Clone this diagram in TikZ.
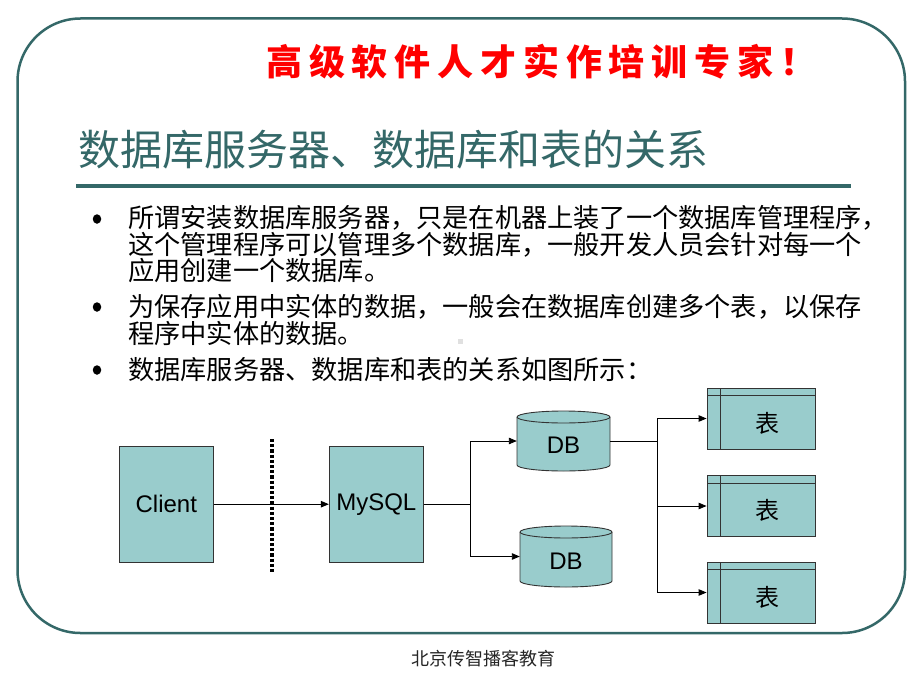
\documentclass[tikz,border=0pt]{standalone}
\usepackage{fontspec}
\setmainfont{Liberation Sans}
\newfontfamily\cjk{Noto Sans CJK SC}
\newfontfamily\cjkred[LetterSpace=19]{Noto Sans CJK SC}
\usetikzlibrary{arrows.meta}
\definecolor{tealzero}{HTML}{346868}
\definecolor{cyanfill}{HTML}{99CCCC}
\definecolor{edgec}{HTML}{333333}
\newcommand\mycyl[5]{%
  \filldraw[draw=edgec, fill=cyanfill, line width=0.9pt]
    (#1,#3+6) -- (#1,#4-6)
    arc[start angle=180,end angle=360,x radius=#5pt,y radius=6pt]
    -- (#2,#3+6)
    arc[start angle=0,end angle=180,x radius=#5pt,y radius=6pt] -- cycle;
  \draw[draw=edgec, line width=0.9pt] (#1,#3+6)
    arc[start angle=180,end angle=360,x radius=#5pt,y radius=6pt];}
\tikzset{
  frame/.style={draw=tealzero, line width=2.5pt, rounded corners=63pt},
  box/.style={draw=edgec, fill=cyanfill, line width=0.9pt, minimum width=94pt,
    minimum height=116pt, inner sep=0pt, font=\fontsize{24}{24}\selectfont},
  dbnode/.style={draw=none, inner sep=0pt, minimum width=93pt, minimum height=60pt},
  dblabel/.style={inner sep=0pt, font=\fontsize{24}{24}\selectfont},
  tablebox/.style={draw=edgec, fill=cyanfill, line width=0.9pt, minimum width=108pt,
    minimum height=61pt, inner sep=0pt,
    path picture={
      \draw[edgec, line width=0.9pt]
        ([yshift=-7.5pt]path picture bounding box.north west) --
        ([yshift=-7.5pt]path picture bounding box.north east);
      \draw[edgec, line width=0.9pt]
        ([xshift=13pt]path picture bounding box.north west) --
        ([xshift=13pt]path picture bounding box.south west);}},
  tabletext/.style={inner sep=0pt, font=\cjk\fontsize{24}{24}\selectfont},
  conn/.style={line width=0.9pt, draw=black},
  arr/.style={conn, -{Triangle[length=8pt,width=6.5pt]}},
  bodyline/.style={anchor=west, inner sep=0pt, font=\cjk\fontsize{26.2}{26.2}\selectfont},
  bulletdot/.style={ellipse, fill=black, inner sep=0pt, minimum width=8.5pt, minimum height=9.5pt},
  dotline/.style={line width=3.8pt, dash pattern=on 3.2pt off 2pt}
}
\usetikzlibrary{shapes.geometric}
\begin{document}
\begin{tikzpicture}[x=1pt,y=-1pt]
\useasboundingbox (0,0) rectangle (920,690);
\fill[white] (0,0) rectangle (920,690);
\draw[frame] (17.5,18.5) rectangle (905,633);

% header
\node[anchor=west, inner sep=0pt, text=red,
  font=\cjkred\bfseries\fontsize{36}{36}\selectfont] (slogan) at (266,62)
  {高级软件人才实作培训专家！};

% title
\node[anchor=west, inner sep=0pt, text=tealzero,
  font=\cjk\fontsize{42}{42}\selectfont] (title) at (78,150)
  {数据库服务器、数据库和表的关系};
\draw[tealzero, line width=4pt] (76,186) -- (851,186);

% body
\node[bulletdot] (bu1) at (97,219) {};
\node[bodyline] (l1) at (128,218) {所谓安装数据库服务器，只是在机器上装了一个数据库管理程序，};
\node[bodyline] (l2) at (128,245) {这个管理程序可以管理多个数据库，一般开发人员会针对每一个};
\node[bodyline] (l3) at (128,271) {应用创建一个数据库。};
\node[bulletdot] (bu2) at (97,307) {};
\node[bodyline] (l4) at (128,307) {为保存应用中实体的数据，一般会在数据库创建多个表，以保存};
\node[bodyline] (l5) at (128,333) {程序中实体的数据。};
\node[bulletdot] (bu3) at (97,370) {};
\node[bodyline] (l6) at (128,370) {数据库服务器、数据库和表的关系如图所示：};
\fill[black!12] (457.5,338.5) rectangle (462.5,343.5);

% diagram
\node[box] (client) at (166.3,504.2) {Client};
\node[box] (mysql) at (376.3,504.2) {MySQL};

\mycyl{517}{610}{411}{471}{46.5}
\node[dbnode] (db1) at (563.5,441) {};
\node[dblabel] (db1t) at ([yshift=-4pt]db1.center) {DB};
\mycyl{520}{612}{526}{587}{46}
\node[dbnode, minimum width=92pt, minimum height=61pt] (db2) at (566,556.5) {};
\node[dblabel] (db2t) at ([yshift=-5pt]db2.center) {DB};

\node[tablebox] (t1) at (761,418.5) {};
\node[tablebox] (t2) at (761,506) {};
\node[tablebox] (t3) at (761,592.5) {};
\node[tabletext] (t1t) at ([xshift=6pt,yshift=-4.5pt]t1.center) {表};
\node[tabletext] (t2t) at ([xshift=6pt,yshift=-4.5pt]t2.center) {表};
\node[tabletext] (t3t) at ([xshift=6pt,yshift=-4.5pt]t3.center) {表};

\draw[arr] (client.east) -- (mysql.west);
\coordinate (dtop) at (271.7,439);
\coordinate (dbot) at (271.7,573);
\draw[dotline] (dtop) -- (dbot);

\coordinate (j1) at (470,504.2);
\draw[conn] (mysql.east) -- (j1);
\draw[arr] (j1) |- (db1.west);
\draw[arr] (j1) |- (db2.west);

\coordinate (j2) at (657.7,441);
\draw[conn] (db1.east) -- (j2);
\draw[arr] (j2) |- (t1.west);
\draw[arr] (j2) |- (t2.west);
\draw[arr] (j2) |- (t3.west);

% footer
\node[inner sep=0pt, text=black!85, font=\cjk\fontsize{18}{18}\selectfont]
  (footer) at (483,659) {北京传智播客教育};
\end{tikzpicture}
\end{document}
